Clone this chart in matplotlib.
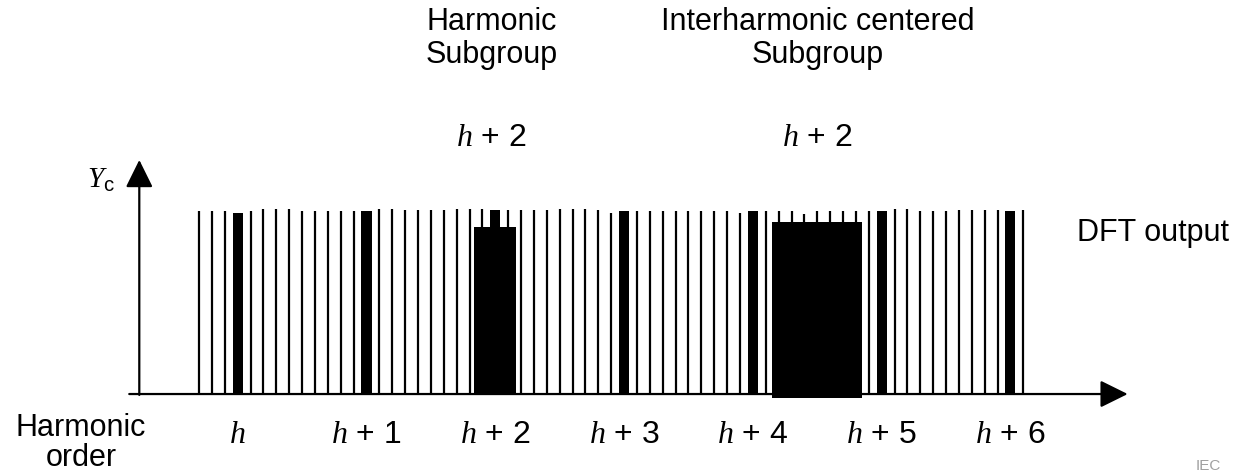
#! /usr/bin/env python3
import numpy as np
import matplotlib
matplotlib.use("Agg")
import matplotlib.pyplot as plt

# DFT bins, counted from harmonic h (10 bins per harmonic order)
bin_index = list(range(-3, 62))
bin_level = [1.0, 1.0, 1.0, 0.99, 1.0, 1.01, 1.01, 1.01, 1.0, 1.0,
             1.0, 1.0, 1.0, 1.0, 1.01, 1.01, 1.005, 1.005, 1.005, 1.005,
             1.01, 1.01, 1.01, 1.005, 1.005, 1.005, 1.005, 1.005, 1.01, 1.01,
             1.01, 1.005, 0.99, 1.0, 1.0, 1.0, 1.0, 1.0, 1.0, 1.0,
             1.0, 1.0, 0.99, 1.0, 1.0, 1.0, 1.0, 0.985, 1.0, 1.0,
             1.0, 1.0, 1.0, 1.0, 1.01, 1.01, 1.0, 1.0, 1.0, 1.005,
             1.005, 1.005, 1.005, 1.0, 1.005]

# harmonic bins (drawn thick) and their labels
harmonic_bins = [0, 10, 20, 30, 40, 50, 60]
harmonic_labels = [r"$h$", r"$h$ + 1", r"$h$ + 2", r"$h$ + 3",
                   r"$h$ + 4", r"$h$ + 5", r"$h$ + 6"]

# subgroups
harm_subgroup_bins = [19, 20, 21]
harm_subgroup_level = 0.914
inter_subgroup_bins = [42, 43, 44, 45, 46, 47, 48]
inter_subgroup_level = 0.94

plt.rcParams['font.family'] = ['Liberation Sans', 'DejaVu Sans']
plt.rcParams['mathtext.fontset'] = 'custom'
plt.rcParams['mathtext.it'] = 'Liberation Serif:italic'
plt.rcParams['mathtext.rm'] = 'Liberation Sans'

fig = plt.figure(figsize=(12.36, 4.74), dpi=100)
ax = fig.add_axes([0, 0, 1, 1])
ax.set_xlim(-18.455, 77.51)
ax.set_ylim(-0.437, 2.153)
ax.axis('off')

level = dict(zip(bin_index, bin_level))

# thin bins (everything that is not a harmonic)
thin = [k for k in bin_index if k not in harmonic_bins]
ax.vlines(thin, 0, [level[k] for k in thin], color='black', lw=1.6)

# thick harmonic bins
ax.bar(harmonic_bins, [level[k] for k in harmonic_bins], width=0.78,
       color='black', linewidth=0)

# harmonic subgroup block
ax.bar(np.mean(harm_subgroup_bins), harm_subgroup_level,
       width=len(harm_subgroup_bins) + 0.24, color='black', linewidth=0)
# interharmonic centred subgroup block
ax.bar(np.mean(inter_subgroup_bins), inter_subgroup_level + 0.02, bottom=-0.02,
       width=len(inter_subgroup_bins), color='black', linewidth=0)

# axes with arrows
arrow = dict(arrowstyle='-|>,head_length=0.85,head_width=0.42',
             mutation_scale=20, lw=1.6, color='black',
             shrinkA=0, shrinkB=0)
ax.annotate('', xy=(69.1, 0), xytext=(-8.42, 0), arrowprops=arrow)
ax.annotate('', xy=(-7.64, 1.279), xytext=(-7.64, -0.005), arrowprops=arrow)

fs = 22
ax.text(-9.5, 1.169, r"$Y_{\mathrm{c}}$", fontsize=21, ha='right', va='center')
ax.text(65.17, 0.88, "DFT output", fontsize=fs, ha='left', va='center')
ax.text(-12.17, -0.27, "Harmonic\norder", fontsize=fs, ha='center',
        va='center', linespacing=1.0)

for k, lab in zip(harmonic_bins, harmonic_labels):
    ax.text(k, -0.224, lab, fontsize=23, ha='center', va='center')

# top annotations
ax.text(np.mean(harm_subgroup_bins) - 0.3, 1.943, "Harmonic\nSubgroup",
        fontsize=fs, ha='center', va='center', linespacing=1.1)
ax.text(np.mean(harm_subgroup_bins) - 0.3, 1.40, r"$h$ + 2",
        fontsize=23, ha='center', va='center')
ax.text(np.mean(inter_subgroup_bins), 1.943, "Interharmonic centered\nSubgroup",
        fontsize=fs, ha='center', va='center', linespacing=1.1)
ax.text(np.mean(inter_subgroup_bins), 1.40, r"$h$ + 2",
        fontsize=23, ha='center', va='center')

# source mark at the bottom right corner
fig.text(1196 / 1236, 1 / 474, "IEC", fontsize=11, color='#a0a0a0',
         ha='left', va='bottom')

fig.savefig("out.png", dpi=100)
